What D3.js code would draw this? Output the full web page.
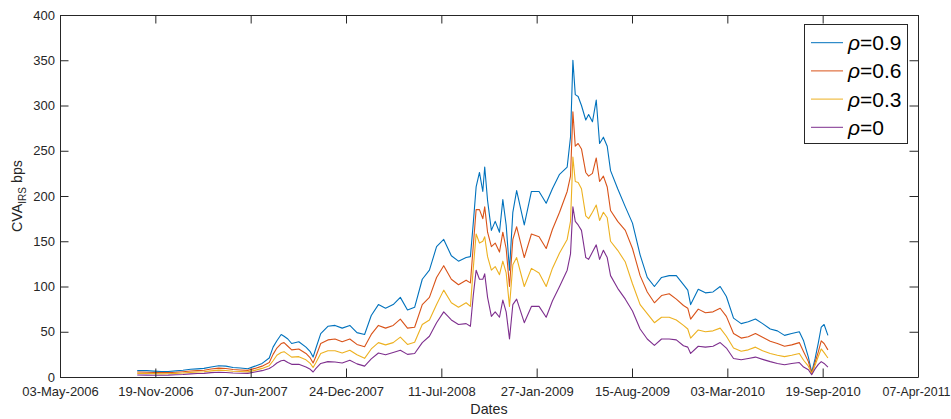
<!DOCTYPE html>
<html>
<head>
<meta charset="utf-8">
<script src="https://cdn.jsdelivr.net/npm/d3@7/dist/d3.min.js"></script>
<style>
  html, body { margin: 0; padding: 0; background: #fff; }
  svg { display: block; font-family: "Liberation Sans", Arial, Helvetica, sans-serif; }
</style>
</head>
<body>
<svg id="chart" width="951" height="419"></svg>
<script>
// ---------------- data ----------------
const dates = [
"2006-10-12","2006-11-01","2006-11-16","2006-12-01","2006-12-16",
"2007-01-01","2007-01-16","2007-02-01","2007-02-15","2007-03-01","2007-03-16","2007-04-01","2007-04-16",
"2007-05-01","2007-05-16","2007-06-01","2007-06-16","2007-07-01","2007-07-16","2007-07-24","2007-08-01",
"2007-08-10","2007-08-16","2007-08-24","2007-09-01","2007-09-16","2007-10-01","2007-10-10","2007-10-16",
"2007-10-22","2007-11-01","2007-11-16","2007-12-01","2007-12-16",
"2008-01-01","2008-01-16","2008-02-01","2008-02-15","2008-03-01","2008-03-16","2008-04-01","2008-04-16",
"2008-05-01","2008-05-16","2008-06-01","2008-06-16","2008-07-01","2008-07-16","2008-08-01","2008-08-16",
"2008-09-01","2008-09-10","2008-09-16","2008-09-22","2008-09-29","2008-10-06","2008-10-10","2008-10-16",
"2008-10-24","2008-11-01","2008-11-10","2008-11-17","2008-11-24","2008-12-01","2008-12-08","2008-12-16",
"2009-01-01","2009-01-16","2009-02-01","2009-02-16","2009-03-01","2009-03-16","2009-04-01","2009-04-08",
"2009-04-13","2009-04-18","2009-04-24","2009-05-01","2009-05-10","2009-05-16","2009-05-24","2009-06-01",
"2009-06-08","2009-06-16","2009-06-24","2009-07-01","2009-07-16","2009-08-01","2009-08-16","2009-09-01",
"2009-09-16","2009-10-01","2009-10-16","2009-11-01","2009-11-16","2009-12-01","2009-12-10","2009-12-16",
"2010-01-01","2010-01-16","2010-02-01","2010-02-16","2010-03-01","2010-03-16","2010-04-01","2010-04-16",
"2010-05-01","2010-05-16","2010-06-01","2010-06-16","2010-07-01","2010-07-16","2010-08-01","2010-08-10",
"2010-08-20","2010-08-27","2010-09-03","2010-09-10","2010-09-16","2010-09-22","2010-09-30"
];

const rho09 = [
7,7,6.5,6,6,
6.8,7.5,8.5,9,9.5,11,12.5,12,
10.5,10,9.2,12,15,21,33,40,
47,45,42,37,39,33,28,22,
32,48,56,57,54,
57,49,47,68,80,76,80,88,
74,77,108,118,144,152,134,128,
132,133,170,210,226,205,232,195,
162,172,160,196,168,118,182,206,
168,205,205,192,208,224,232,265,
350,312,310,300,284,290,282,306,
258,265,255,228,208,188,170,135,
110,100,110,112,112,102,96,80,
97,93,94,100,89,65,59,61,
64,59,53,51,46,48,50,40,
22,5,20,38,55,58,46
];

const rho06 = [
5.5,5.3,5,4.8,4.8,
5.2,5.8,6.6,7,7.5,8.8,9.8,9.4,
8.3,7.8,7.3,9.5,12,16,25,32,
37,38,34,30,31,26,21,15.5,
23,37,41,42,39,
42,36,33.5,47,57,54,57,64,
54,55,80,88,110,123,108,102,
107,104,145,185,185,175,188,160,
144,148,138,160,142,100,152,166,
132,158,155,142,163,182,205,222,
293,255,258,252,226,222,225,242,
216,222,210,184,172,162,142,112,
94,82,90,92,86,79,76,64,
75,71,72,76,67,48,43,44.5,
48,44,39.5,37,34,35.5,38,28,
17,4,16,28,40,37,30
];

const rho03 = [
4,3.9,3.7,3.5,3.6,
4,4.4,5.1,5.5,5.8,6.8,7.6,7.2,
6.4,6,5.7,7.3,9.5,12.5,18,24,
27,28,25,22,22.5,19,15,10.5,
16,26,29,29,26.5,
29.5,24.5,20.6,31,38,35.5,38,44,
36,38.5,58,63,80,96,82,77,
82,78,120,158,148,150,155,133,
118,122,113,128,115,78,124,132,
100,120,115,100,120,137,152,172,
243,216,215,208,178,175,182,190,
173,182,176,150,140,127,103,80,
70,60,66,66,63,57,53,43,
52,50,51,54,45,32,28.5,30,
33,29,26,24,22.5,24,26,18.5,
12,3.5,13,23,31,27,21
];

const rho0 = [
2.2,2.1,2,2,2.1,
2.5,2.8,3.5,3.8,4,4.8,5.3,5,
4.5,4.2,4,5.5,7,9.5,12,15.5,
18,18.5,16,14,14,11,8.5,5.5,
9.5,15,17,16.5,15.5,
18.5,14.5,12,20,26.5,24.5,27,29.5,
25,26,38,45,60,72,63,58,
59,56,90,118,108,108,114,88,
67,72,66,85,72,42,80,86,
60,78,78,66,84,100,118,136,
188,172,168,162,132,130,138,146,
130,140,132,112,98,86,73,53,
42,35,42,42,41,34.5,33,26,
34,33,34,38,32,20.5,19,20.5,
22,19.5,17,15,13.5,15,16,11,
8,2.5,9,14,17,15,11
];

const seriesNames = ["\u03c1=0.9", "\u03c1=0.6", "\u03c1=0.3", "\u03c1=0"];
const seriesColors = ["#0072BD", "#D95319", "#EDB120", "#7E2F8E"];
const xTickDates = ["2006-05-03","2006-11-19","2007-06-07","2007-12-24","2008-07-11",
                    "2009-01-27","2009-08-15","2010-03-03","2010-09-19","2011-04-07"];
const yTicks = [0, 50, 100, 150, 200, 250, 300, 350, 400];
const xDomain = ["2006-05-03", "2011-04-07"];
const yDomain = [0, 400];

// ---------------- chart ----------------
const parse = d3.utcParse("%Y-%m-%d");
const fmt = d3.utcFormat("%d-%b-%Y");
const svg = d3.select("#chart");
const M = { left: 60, right: 918, top: 15, bottom: 377 };
const axisColor = "#262626";
const tick = 8.5;

const x = d3.scaleUtc().domain(xDomain.map(parse)).range([M.left, M.right]);
const y = d3.scaleLinear().domain(yDomain).range([M.bottom, M.top]);

svg.append("rect").attr("x", M.left).attr("y", M.top)
  .attr("width", M.right - M.left).attr("height", M.bottom - M.top).attr("fill", "#fff");

// series
const allSeries = [rho09, rho06, rho03, rho0];
const line = d3.line().x(d => x(d.date)).y(d => y(d.value));
const plotG = svg.append("g");
allSeries.forEach((vals, i) => {
  const pts = dates.map((d, k) => ({ date: parse(d), value: vals[k] }));
  plotG.append("path").datum(pts)
    .attr("d", line)
    .attr("fill", "none")
    .attr("stroke", seriesColors[i])
    .attr("stroke-width", 1.1)
    .attr("stroke-linejoin", "round");
});

function styleAxis(g) {
  g.selectAll("path.domain").attr("stroke", axisColor).attr("stroke-width", 1);
  g.selectAll(".tick line").attr("stroke", axisColor).attr("stroke-width", 1);
  g.selectAll(".tick text").attr("fill", axisColor)
    .attr("font-size", 13).attr("font-family", '"Liberation Sans", Arial, sans-serif');
}

const tickDates = xTickDates.map(parse);
const xAxisG = svg.append("g").attr("transform", `translate(0,${M.bottom})`)
  .call(d3.axisBottom(x).tickValues(tickDates).tickFormat(fmt)
        .tickSizeInner(-tick).tickSizeOuter(0).tickPadding(10))
  .call(styleAxis);
// keep the last label inside the picture (it sits on the right edge)
xAxisG.selectAll(".tick text")
  .filter((d, i, n) => i === n.length - 1)
  .attr("text-anchor", "end").attr("x", 950 - M.right).attr("font-size", 12.4);

svg.append("g").attr("transform", `translate(0,${M.top})`)
  .call(d3.axisTop(x).tickValues(tickDates).tickFormat("")
        .tickSizeInner(-tick).tickSizeOuter(0))
  .call(styleAxis);
svg.append("g").attr("transform", `translate(${M.left},0)`)
  .call(d3.axisLeft(y).tickValues(yTicks).tickFormat(d3.format("d"))
        .tickSizeInner(-tick).tickSizeOuter(0).tickPadding(5))
  .call(styleAxis);
svg.append("g").attr("transform", `translate(${M.right},0)`)
  .call(d3.axisRight(y).tickValues(yTicks).tickFormat("")
        .tickSizeInner(-tick).tickSizeOuter(0))
  .call(styleAxis);

// axis labels
svg.append("text")
  .attr("x", (M.left + M.right) / 2).attr("y", 414)
  .attr("text-anchor", "middle").attr("font-size", 14.3).attr("fill", axisColor)
  .text("Dates");

const yl = svg.append("text")
  .attr("transform", `translate(22,${(M.top + M.bottom) / 2}) rotate(-90)`)
  .attr("text-anchor", "middle").attr("font-size", 14.3).attr("fill", axisColor);
yl.append("tspan").text("CVA");
yl.append("tspan").attr("font-size", 10).attr("dy", 4).text("IRS");
yl.append("tspan").attr("dy", -4).text(" bps");

// legend
const lg = svg.append("g");
const L = { x: 804, y: 24, w: 103, h: 119 };
lg.append("rect").attr("x", L.x + 0.5).attr("y", L.y + 0.5)
  .attr("width", L.w).attr("height", L.h)
  .attr("fill", "#fff").attr("stroke", axisColor).attr("stroke-width", 1);
seriesNames.forEach((name, i) => {
  const cy = 42.7 + i * 28.2;
  lg.append("line").attr("x1", 811).attr("x2", 843).attr("y1", cy).attr("y2", cy)
    .attr("stroke", seriesColors[i]).attr("stroke-width", 1);
  const t = lg.append("text").attr("x", 848).attr("y", cy + 7.5)
    .attr("font-size", 21).attr("fill", "#000");
  t.append("tspan").attr("font-style", "italic").text(name.slice(0, 1));
  t.append("tspan").text(name.slice(1));
});
</script>
</body>
</html>
